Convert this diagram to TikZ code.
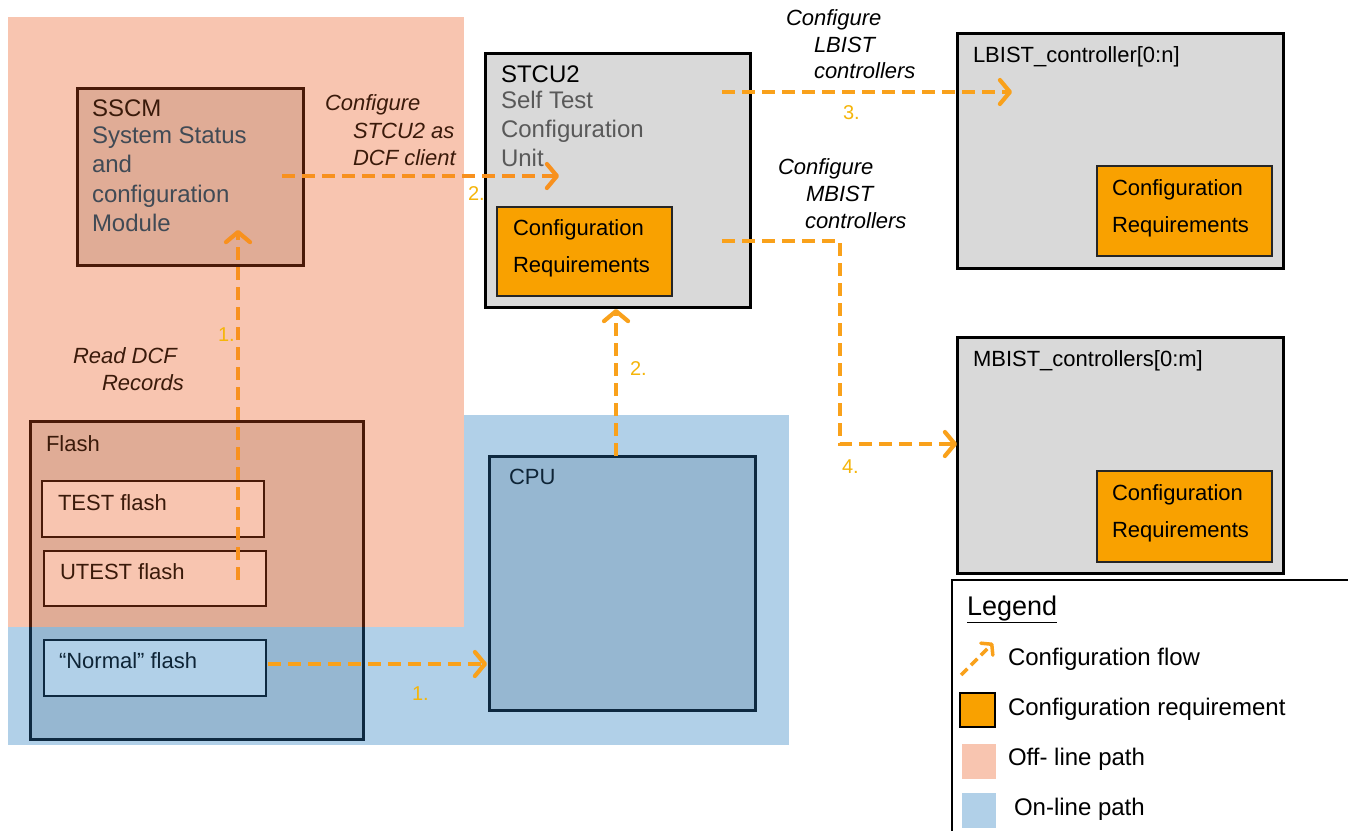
\documentclass[tikz,border=0pt]{standalone}
\usepackage{fontspec}
\setmainfont{Liberation Sans}
\usetikzlibrary{arrows.meta}
\definecolor{offpink}{HTML}{F8C5B0}
\definecolor{onblue}{HTML}{B1D0E8}
\definecolor{pinkdark}{HTML}{E0AC96}
\definecolor{bluedark}{HTML}{96B7D1}
\definecolor{brownline}{HTML}{4A1A08}
\definecolor{navyline}{HTML}{0E2940}
\definecolor{boxgray}{HTML}{D9D9D9}
\definecolor{reqorange}{HTML}{F9A100}
\definecolor{flowA}{HTML}{F8911E}
\definecolor{flowB}{HTML}{F9A11B}
\definecolor{numamber}{HTML}{F5B50A}
\definecolor{browntext}{HTML}{3A1A0A}
\definecolor{greytext}{HTML}{404A55}
\definecolor{stcugrey}{HTML}{595959}
\definecolor{navytext}{HTML}{0E2436}
\begin{document}
\begin{tikzpicture}[x=1pt,y=-1pt,
  lbl/.style={anchor=base west, inner sep=0pt, outer sep=0pt},
  big/.style={font=\fontsize{24}{29}\selectfont},
  mid/.style={font=\fontsize{22}{26}\selectfont},
  ital/.style={font=\fontsize{22}{26}\selectfont\itshape},
  num/.style={font=\fontsize{20}{24}\selectfont, text=numamber},
  legtext/.style={font=\fontsize{24}{29}\selectfont},
  boxnw/.style={rectangle, anchor=north west, inner sep=0pt, outer sep=0pt},
  graybox/.style={boxnw, draw=black, fill=boxgray, line width=3pt},
  reqbox/.style={boxnw, draw=black!85, fill=reqorange, line width=1.5pt},
  flow/.style={line width=4.2pt, dash pattern=on 13pt off 7pt,
    -{Straight Barb[length=10pt,width=24pt,round]}},
]
\useasboundingbox (0,0) rectangle (1348,830);
\clip (0,0) rectangle (1348,830);
\fill[white] (0,0) rectangle (1348,830);

% regions
\fill[onblue] (8,415) rectangle (789,745);
\fill[offpink] (8,17) rectangle (464,627);

% Flash box (two-tone)
\begin{scope}
  \clip (0,0) rectangle (1348,627);
  \draw[draw=brownline, fill=pinkdark, line width=3pt] (30,421) rectangle (363,739);
\end{scope}
\begin{scope}
  \clip (0,627) rectangle (1348,830);
  \draw[draw=navyline, fill=bluedark, line width=3pt] (30,421) rectangle (363,739);
\end{scope}
\node[boxnw, minimum width=333pt, minimum height=318pt] (flash) at (30,421) {};

% inner flash boxes
\node[boxnw, draw=brownline, fill=offpink, line width=1.5pt, minimum width=222pt, minimum height=56pt] (test) at (42,481) {};
\node[boxnw, draw=brownline, fill=offpink, line width=1.5pt, minimum width=222pt, minimum height=55pt] (utest) at (44,551) {};
\node[boxnw, draw=navyline, fill=onblue, line width=1.5pt, minimum width=222pt, minimum height=56pt] (normal) at (44,640) {};

% SSCM and CPU
\node[boxnw, draw=brownline, fill=pinkdark, line width=3pt, minimum width=226pt, minimum height=177pt] (sscm) at (77,88) {};
\node[boxnw, draw=navyline, fill=bluedark, line width=3pt, minimum width=266pt, minimum height=254pt] (cpu) at (489,456) {};

% gray boxes
\node[graybox, minimum width=265pt, minimum height=254pt] (stcu) at (485,53) {};
\node[reqbox, minimum width=175pt, minimum height=89pt] (stcureq) at (497,207) {};
\node[graybox, minimum width=326pt, minimum height=235pt] (lbist) at (957,33) {};
\node[reqbox, minimum width=175pt, minimum height=90pt] (lbistreq) at (1097,166) {};
\node[graybox, minimum width=326pt, minimum height=236pt] (mbist) at (957,337) {};
\node[reqbox, minimum width=175pt, minimum height=91pt] (mbistreq) at (1097,471) {};

% box texts
\node[lbl, big, text=browntext] (t1) at (92,116) {SSCM};
\node[lbl, big, text=greytext] (t2) at (92,143) {System Status};
\node[lbl, big, text=greytext] (t3) at (92,172) {and};
\node[lbl, big, text=greytext] (t4) at (92,202) {configuration};
\node[lbl, big, text=greytext] (t5) at (92,231) {Module};

\node[lbl, big, text=black] (u1) at (501,82) {STCU2};
\node[lbl, big, text=stcugrey] (u2) at (501,108) {Self Test};
\node[lbl, big, text=stcugrey] (u3) at (501,137) {Configuration};
\node[lbl, big, text=stcugrey] (u4) at (501,166) {Unit};

\node[lbl, mid] (r1) at (513,235) {Configuration};
\node[lbl, mid] (r2) at (513,272) {Requirements};
\node[lbl, mid] (r3) at (1112,195) {Configuration};
\node[lbl, mid] (r4) at (1112,232) {Requirements};
\node[lbl, mid] (r5) at (1112,500) {Configuration};
\node[lbl, mid] (r6) at (1112,537) {Requirements};

\node[lbl, mid] (lt) at (973,62) {LBIST\_controller[0:n]};
\node[lbl, mid] (mt) at (973,366) {MBIST\_controllers[0:m]};

\node[lbl, mid, text=browntext] (ft) at (46,451) {Flash};
\node[lbl, mid, text=browntext] (tt) at (58,510) {TEST flash};
\node[lbl, mid, text=browntext] (ut) at (60,579) {UTEST flash};
\node[lbl, mid, text=navytext] (nt) at (59,668) {“Normal” flash};
\node[lbl, mid, text=navytext] (ct) at (509,484) {CPU};

% italic labels
\node[lbl, ital, text=browntext] (c1) at (325,110) {Configure};
\node[lbl, ital, text=browntext] (c2) at (353,138) {STCU2 as};
\node[lbl, ital, text=browntext] (c3) at (353,165) {DCF client};
\node[lbl, ital] (l1) at (786,25) {Configure};
\node[lbl, ital] (l2) at (814,52) {LBIST};
\node[lbl, ital] (l3) at (814,78) {controllers};
\node[lbl, ital] (m1) at (778,174) {Configure};
\node[lbl, ital] (m2) at (806,201) {MBIST};
\node[lbl, ital] (m3) at (805,228) {controllers};
\node[lbl, ital, text=browntext] (d1) at (73,363) {Read DCF};
\node[lbl, ital, text=browntext] (d2) at (102,390) {Records};

% numbers
\node[lbl, num] (n1) at (218,341) {1.};
\node[lbl, num] (n2) at (468,200) {2.};
\node[lbl, num] (n3) at (630,375) {2.};
\node[lbl, num] (n4) at (843,119) {3.};
\node[lbl, num] (n5) at (842,473) {4.};
\node[lbl, num] (n6) at (412,700) {1.};

% connector end points
\coordinate (a1s) at (238,580);
\coordinate (a1e) at (238,230);
\coordinate (a2s) at (282,176);
\coordinate (a2e) at (559,176);
\coordinate (a3s) at (268,664);
\coordinate (a3e) at (487,664);
\coordinate (a4s) at (616,456);
\coordinate (a4e) at (616,309);
\coordinate (a5s) at (722,92);
\coordinate (a5e) at (1012,92);
\coordinate (a6s) at (722,241);
\coordinate (a6b) at (840,241);
\coordinate (a6c) at (840,444);
\coordinate (a6e) at (957,444);

\draw[flow, draw=flowA] (a1s) -- (a1e);
\draw[flow, draw=flowA] (a2s) -- (a2e);
\draw[flow, draw=flowB] (a3s) -- (a3e);
\draw[flow, draw=flowB] (a4s) -- (a4e);
\draw[flow, draw=flowB] (a5s) -- (a5e);
\draw[flow, draw=flowB] (a6s) -- (a6b) -- (a6c) -- (a6e);

% legend
\node[boxnw, draw=black, fill=white, line width=1.5pt, minimum width=420pt, minimum height=280pt] (legend) at (952,580) {};
\node[lbl, font=\fontsize{27}{32}\selectfont] (lg) at (967,615) {\underline{Legend}};
\coordinate (lfs) at (961,675);
\coordinate (lfe) at (993,643);
\draw[line width=3.5pt, draw=flowB, dash pattern=on 9pt off 5pt,
  -{Straight Barb[length=7pt,width=17pt,round]}] (lfs) -- (lfe);
\node[lbl, legtext] (lg1) at (1008,665) {Configuration flow};
\node[boxnw, draw=black, fill=reqorange, line width=1.5pt, minimum width=35pt, minimum height=34pt] (lsq1) at (960,693) {};
\node[lbl, legtext] (lg2) at (1008,715) {Configuration requirement};
\node[boxnw, fill=offpink, minimum width=34pt, minimum height=35pt] (lsq2) at (962,744) {};
\node[lbl, legtext] (lg3) at (1008,765) {Off- line path};
\node[boxnw, fill=onblue, minimum width=34pt, minimum height=35pt] (lsq3) at (962,793) {};
\node[lbl, legtext] (lg4) at (1014,815) {On-line path};
\end{tikzpicture}
\end{document}
